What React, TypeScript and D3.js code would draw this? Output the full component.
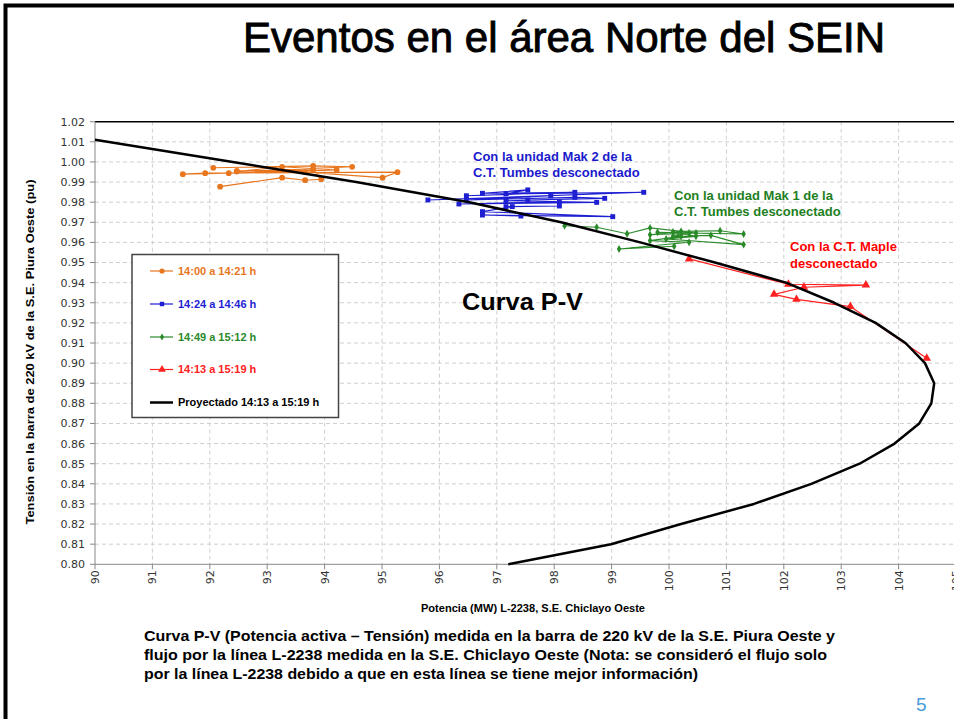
import React from 'react';
import * as d3 from 'd3';

// ---------- data ----------
const xTickValues = [90, 91, 92, 93, 94, 95, 96, 97, 98, 99, 100, 101, 102, 103, 104, 105];
const yTickValues = [0.8, 0.81, 0.82, 0.83, 0.84, 0.85, 0.86, 0.87, 0.88, 0.89, 0.9, 0.91, 0.92, 0.93, 0.94, 0.95, 0.96, 0.97, 0.98, 0.99, 1.0, 1.01, 1.02];

// 14:00 a 14:21 h
const orangeP = [92.06, 93.8, 94.48, 92.47, 93.26, 94.21, 92.33, 91.53, 91.92, 95.27, 95.01, 93.66, 92.47, 93.8, 93.94, 93.66, 93.26, 92.18];
const orangeV = [0.9971, 0.998, 0.9976, 0.9952, 0.9976, 0.996, 0.9944, 0.9939, 0.9944, 0.9949, 0.9922, 0.9949, 0.9956, 0.996, 0.9914, 0.9909, 0.9922, 0.9877];

// 14:24 a 14:46 h
const blueP = [96.47, 98.36, 96.75, 97.54, 97.16, 99.56, 95.8, 97.94, 96.47, 98.36, 98.88, 97.54, 97.16, 98.74, 96.34, 98.09, 98.09, 97.16, 97.27, 96.75, 99.02, 96.75, 97.42];
const blueV = [0.9832, 0.9849, 0.9844, 0.9861, 0.9841, 0.9849, 0.9811, 0.9832, 0.9811, 0.9824, 0.9819, 0.9811, 0.9807, 0.9799, 0.9791, 0.9802, 0.9781, 0.9778, 0.9778, 0.9753, 0.9728, 0.9736, 0.9731];

// 14:49 a 15:12 h
const greenP = [98.18, 98.74, 99.27, 99.67, 100.47, 99.67, 100.21, 100.89, 101.3, 99.8, 100.35, 100.07, 100.73, 101.3, 99.95, 100.47, 100.07, 100.21, 99.67, 100.35, 99.13, 100.09];
const greenV = [0.9683, 0.9675, 0.9643, 0.9672, 0.9647, 0.9638, 0.9655, 0.9658, 0.9642, 0.965, 0.9647, 0.963, 0.9635, 0.9589, 0.9617, 0.963, 0.9652, 0.963, 0.9609, 0.9601, 0.9567, 0.9581];

// 14:13 a 15:19 h
const redP = [100.35, 102.08, 103.43, 102.35, 101.83, 102.22, 103.16, 104.49];
const redV = [0.9518, 0.9392, 0.9388, 0.9377, 0.9342, 0.9317, 0.9281, 0.9024];

// Proyectado 14:13 a 15:19 h
const curveP = [90.0, 92.4, 94.55, 96.52, 98.12, 99.5, 100.8, 102.04, 102.88, 103.6, 104.12, 104.46, 104.62, 104.57, 104.36, 103.93, 103.32, 102.48, 101.48, 100.21, 98.99, 97.2];
const curveV = [1.011, 1.0, 0.99, 0.98, 0.97, 0.96, 0.95, 0.94, 0.93, 0.92, 0.91, 0.9, 0.89, 0.88, 0.87, 0.86, 0.85, 0.84, 0.83, 0.82, 0.81, 0.8];

const legendLabels = ['14:00 a 14:21 h', '14:24 a 14:46 h', '14:49 a 15:12 h', '14:13 a 15:19 h', 'Proyectado 14:13 a 15:19 h'];

const FONT = 'Liberation Sans, Arial, sans-serif';
const TICKFONT = 'DejaVu Sans, Verdana, sans-serif';

const ORANGE = '#E8761E';
const BLUE = '#1E1ED2';
const GREEN = '#2A8A2A';
const RED = '#FF2020';

type Pt = [number, number];
const zip = (a: number[], b: number[]): Pt[] => a.map((v, i) => [v, b[i]]);

export default function App() {
  const x = d3.scaleLinear().domain([90, 105]).range([95, 956]);
  const y = d3.scaleLinear().domain([0.8, 1.02]).range([564.3, 121.7]);
  const line = d3.line<Pt>().x((d) => x(d[0])).y((d) => y(d[1]));

  const series = [
    { data: zip(orangeP, orangeV), color: ORANGE, sym: d3.symbolCircle, size: 26, width: 1.2 },
    { data: zip(blueP, blueV), color: BLUE, sym: d3.symbolSquare, size: 24, width: 1.1 },
    { data: zip(greenP, greenV), color: GREEN, sym: d3.symbolDiamond, size: 18, width: 1.1 },
    { data: zip(redP, redV), color: RED, sym: d3.symbolTriangle, size: 32, width: 1.2 },
  ];
  const curve = zip(curveP, curveV);

  const x0 = x(90), x1 = 954;
  const yTop = y(1.02), yBot = y(0.8);

  const legendY = [271, 304, 337, 369.5, 402.5];
  const legendColors = [ORANGE, BLUE, GREEN, RED, '#000'];

  return (
    <svg width={954} height={719} style={{ position: 'absolute', left: 0, top: 0, background: '#fff' }} fontFamily={FONT}>
      <rect x={0} y={0} width={954} height={719} fill="#fff" />
      {/* slide frame */}
      <path d="M5.5,719 V5.5 H954" fill="none" stroke="#000" strokeWidth={4} />

      {/* title */}
      <text x={243} y={52} fontSize={42} fill="#000" stroke="#000" strokeWidth={0.9} fontFamily={FONT}>
        Eventos en el área Norte del SEIN
      </text>

      {/* gridlines */}
      {yTickValues.filter((v) => v > 0.8 && v < 1.02).map((v) => (
        <line key={'gy' + v} x1={x0} x2={x1} y1={y(v)} y2={y(v)} stroke="#cfcfcf" strokeDasharray="4,3" strokeWidth={1} />
      ))}
      {xTickValues.filter((v) => v > 90 && v < 105).map((v) => (
        <line key={'gx' + v} x1={x(v)} x2={x(v)} y1={yTop} y2={yBot} stroke="#cfcfcf" strokeDasharray="4,3" strokeWidth={1} />
      ))}

      {/* plot border / axes */}
      <line x1={x0} x2={x1} y1={yTop} y2={yTop} stroke="#000" strokeWidth={1.5} />
      <line x1={x0} x2={x0} y1={yTop} y2={yBot} stroke="#888" strokeWidth={1} />
      <line x1={x0} x2={x1} y1={yBot} y2={yBot} stroke="#888" strokeWidth={1} />

      {/* y ticks */}
      {yTickValues.map((v) => (
        <g key={'ty' + v}>
          <line x1={x0 - 5} x2={x0} y1={y(v)} y2={y(v)} stroke="#888" />
          <text x={x0 - 10} y={y(v)} dy="0.36em" textAnchor="end" fontSize={11} fontFamily={TICKFONT} fill="#333">
            {v.toFixed(2)}
          </text>
        </g>
      ))}
      {/* x ticks */}
      {xTickValues.map((v) => (
        <g key={'tx' + v}>
          <line x1={x(v)} x2={x(v)} y1={yBot} y2={yBot + 5} stroke="#888" />
          <text transform={`translate(${x(v)},${yBot + 6}) rotate(-90)`} dy="0.36em" textAnchor="end" fontSize={11} fontFamily={TICKFONT} fill="#333">
            {v}
          </text>
        </g>
      ))}

      {/* axis titles */}
      <text transform="translate(34,352) rotate(-90)" textAnchor="middle" fontSize={11} fontWeight="bold" fill="#000" textLength={345} lengthAdjust="spacingAndGlyphs">
        Tensión en la barra  de 220 kV de la S.E. Piura Oeste (pu)
      </text>
      <text x={533} y={612} textAnchor="middle" fontSize={11.5} fontWeight="bold" fill="#000" textLength={224} lengthAdjust="spacingAndGlyphs">
        Potencia (MW)  L-2238, S.E. Chiclayo Oeste
      </text>

      {/* series */}
      {series.map((s, i) => (
        <g key={'s' + i}>
          <path d={line(s.data) || ''} fill="none" stroke={s.color} strokeWidth={s.width} />
          {s.data.map((d, j) => (
            <path key={j} transform={`translate(${x(d[0])},${y(d[1])})`} d={d3.symbol(s.sym, s.size)() || ''} fill={s.color} />
          ))}
        </g>
      ))}
      <path d={line(curve) || ''} fill="none" stroke="#000" strokeWidth={2.5} strokeLinejoin="round" />

      {/* legend */}
      <rect x={132} y={254.5} width={206.5} height={163} fill="#fff" stroke="#444" strokeWidth={1.5} />
      {legendLabels.map((lab, i) => (
        <g key={'lg' + i}>
          <line x1={150} x2={173} y1={legendY[i]} y2={legendY[i]} stroke={legendColors[i]} strokeWidth={i === 4 ? 2.5 : 1.2} />
          {i < 4 && (
            <path transform={`translate(162,${legendY[i]})`} d={d3.symbol(series[i].sym, series[i].size * 0.8)() || ''} fill={legendColors[i]} />
          )}
          <text x={178} y={legendY[i]} dy="0.36em" fontSize={11} fontWeight="bold" fill={legendColors[i]}>
            {lab}
          </text>
        </g>
      ))}

      {/* annotations */}
      <text x={462} y={310} fontSize={24} fontWeight="bold" fill="#000" textLength={121} lengthAdjust="spacingAndGlyphs">Curva P-V</text>

      <text x={473} y={161} fontSize={13} fontWeight="bold" fill="#1A1ACC">Con la unidad Mak 2 de la</text>
      <text x={473} y={177} fontSize={13} fontWeight="bold" fill="#1A1ACC">C.T. Tumbes desconectado</text>

      <text x={674} y={200} fontSize={13} fontWeight="bold" fill="#1E7F1E">Con la unidad Mak 1 de la</text>
      <text x={674} y={216} fontSize={13} fontWeight="bold" fill="#1E7F1E">C.T. Tumbes desconectado</text>

      <text x={790} y={251} fontSize={13} fontWeight="bold" fill="#FF0000">Con la C.T. Maple</text>
      <text x={790} y={268} fontSize={13} fontWeight="bold" fill="#FF0000">desconectado</text>

      {/* caption */}
      <text x={144} y={641} fontSize={14} fontWeight="bold" fill="#000" textLength={691} lengthAdjust="spacingAndGlyphs">
        Curva P-V (Potencia activa – Tensión) medida en la barra de 220 kV de la S.E. Piura Oeste y
      </text>
      <text x={144} y={660} fontSize={14} fontWeight="bold" fill="#000" textLength={683} lengthAdjust="spacingAndGlyphs">
        flujo por la línea L-2238 medida en la S.E. Chiclayo Oeste (Nota: se consideró el flujo solo
      </text>
      <text x={144} y={679} fontSize={14} fontWeight="bold" fill="#000" textLength={554} lengthAdjust="spacingAndGlyphs">
        por la línea L-2238 debido a que en esta línea se tiene mejor información)
      </text>

      {/* page number */}
      <text x={916} y={711} fontSize={19} fill="#4A9BDB">5</text>
    </svg>
  );
}
